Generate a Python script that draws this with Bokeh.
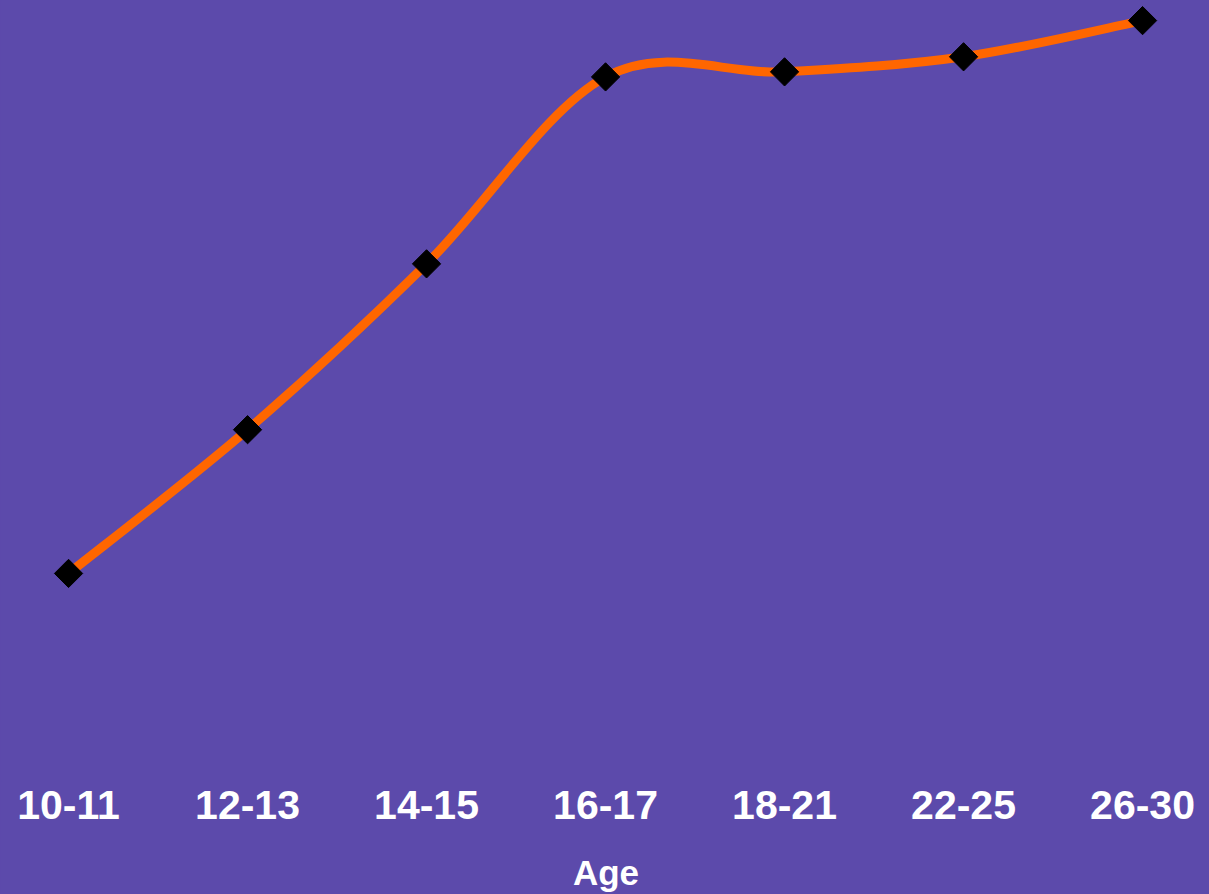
import numpy as np
from bokeh.plotting import figure
from bokeh.models import Range1d, FixedTicker, ColumnDataSource
from bokeh.embed import file_html
from bokeh.resources import INLINE

# ---- data ----
age_groups = ["10-11", "12-13", "14-15", "16-17", "18-21", "22-25", "26-30"]
values = [8.0, 22.3, 38.8, 57.4, 57.9, 59.4, 63.0]

BG = "#5c4aab"
ORANGE = "#ff6600"

x = np.arange(len(age_groups), dtype=float)
y = np.array(values, dtype=float)

p = figure(width=1209, height=894, output_backend="svg", toolbar_location=None,
           x_range=Range1d(-0.369, 6.374), y_range=Range1d(-12.6, 65.0),
           min_border_left=2, min_border_right=0, min_border_top=0, min_border_bottom=0)
p.background_fill_color = BG
p.border_fill_color = BG
p.outline_line_color = BG
p.outline_line_width = 3
p.grid.visible = False
p.yaxis.visible = False

# smooth line via Bezier segments (Catmull-Rom control points from the data)
xp = np.concatenate([[x[0]], x, [x[-1]]])
yp = np.concatenate([[y[0]], y, [y[-1]]])
n = len(x) - 1
cx0 = x[:-1] + (xp[2:n + 2] - xp[0:n]) / 6
cy0 = y[:-1] + (yp[2:n + 2] - yp[0:n]) / 6
cx1 = x[1:] - (xp[3:n + 3] - xp[1:n + 1]) / 6
cy1 = y[1:] - (yp[3:n + 3] - yp[1:n + 1]) / 6
seg = ColumnDataSource(dict(x0=x[:-1], y0=y[:-1], x1=x[1:], y1=y[1:],
                            cx0=cx0, cy0=cy0, cx1=cx1, cy1=cy1))
p.bezier(x0="x0", y0="y0", x1="x1", y1="y1", cx0="cx0", cy0="cy0", cx1="cx1", cy1="cy1",
         source=seg, line_color=ORANGE, line_width=9)

p.scatter(x, y, marker="square", size=20, angle=np.pi / 4,
          fill_color="black", line_color="black")

ax = p.xaxis[0]
ax.ticker = FixedTicker(ticks=list(x))
ax.major_label_overrides = {float(i): lab for i, lab in enumerate(age_groups)}
ax.major_label_overrides.update({int(i): lab for i, lab in enumerate(age_groups)})
ax.axis_line_color = None
ax.major_tick_line_color = None
ax.minor_tick_line_color = None
ax.major_tick_out = 0
ax.major_tick_in = 0
ax.major_label_standoff = 10
ax.major_label_text_font = "Liberation Sans"
ax.major_label_text_font_style = "bold"
ax.major_label_text_font_size = "41px"
ax.major_label_text_color = "white"
ax.axis_label = "Age"
ax.axis_label_standoff = 31
ax.axis_label_text_font = "Liberation Sans"
ax.axis_label_text_font_style = "bold"
ax.axis_label_text_font_size = "35px"
ax.axis_label_text_color = "white"

html = file_html(p, INLINE)
html = html.replace("</head>", "<style>html, body { background-color: %s; }</style></head>" % BG, 1)
open("out.html", "w").write(html)
